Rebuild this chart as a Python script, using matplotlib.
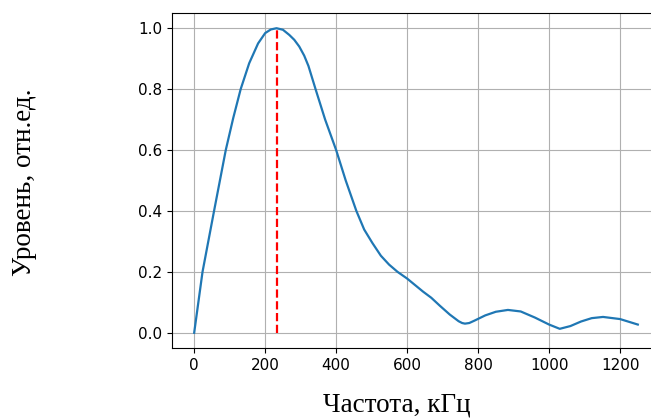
import matplotlib
matplotlib.use("Agg")
import matplotlib.pyplot as plt

freq_khz = [0, 23.5, 56, 89, 110, 131, 155, 180, 200, 216, 232, 250, 268, 282, 296, 310, 322, 342,
            369, 400, 427, 457, 479, 502, 526, 549, 573, 600, 645, 668, 692, 720, 745,
            755, 763, 775, 790, 820, 850, 884, 920, 960, 1000, 1030, 1060, 1090, 1120,
            1152, 1200, 1250]
level = [0, 0.2, 0.4, 0.6, 0.705, 0.8, 0.885, 0.95, 0.984, 0.996, 1.0, 0.995, 0.978, 0.962, 0.94, 0.91, 0.876, 0.80,
         0.7, 0.6, 0.5, 0.4, 0.339, 0.295, 0.253, 0.224, 0.2, 0.178, 0.135, 0.115, 0.089, 0.06, 0.038,
         0.032, 0.03, 0.032, 0.04, 0.057, 0.069, 0.075, 0.07, 0.05, 0.027, 0.013, 0.022, 0.037, 0.048,
         0.052, 0.045, 0.027]
peak_freq = 232
peak_level = 1.0

fig = plt.figure(figsize=(6.51, 4.19), dpi=100)
ax = fig.add_axes([172/651, 1-348/419, (660-172)/651, (348-13)/419])
ax.plot(freq_khz, level, color='#1f77b4', lw=1.6)
ax.plot([peak_freq, peak_freq], [0, peak_level], 'r--', lw=1.6)
ax.grid(True)
ax.set_xticks([0, 200, 400, 600, 800, 1000, 1200])
ax.set_yticks([0.0, 0.2, 0.4, 0.6, 0.8, 1.0])
ax.tick_params(labelsize=11)
ax.set_xlim(-62.5, 1312.5)
ax.set_ylim(-0.05, 1.05)

fig.text(397/651, 1-405/419, "Частота, кГц", family='Liberation Serif', fontsize=19.5,
         ha='center', va='center')
fig.text(25/651, 1-182/419, "Уровень, отн.ед.", family='Liberation Serif', fontsize=19.5,
         ha='center', va='center', rotation=90)

fig.savefig("out.png", dpi=100)
